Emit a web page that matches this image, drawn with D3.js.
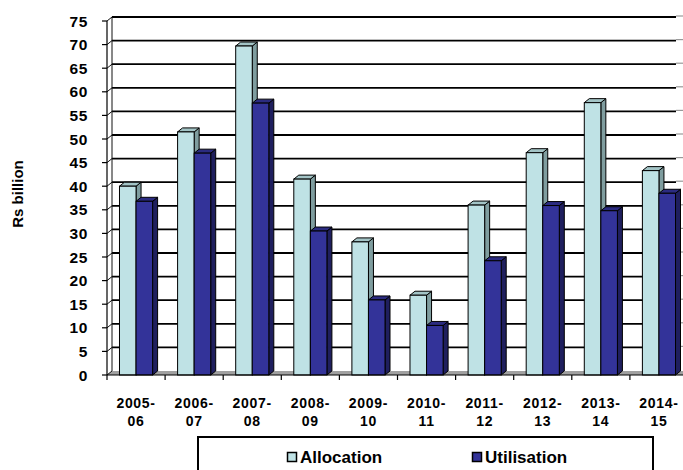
<!DOCTYPE html>
<html>
<head>
<meta charset="utf-8">
<script src="https://cdn.jsdelivr.net/npm/d3@7"></script>
<style>
  body { margin: 0; background: #fff; }
  svg text { font-family: "Liberation Sans", Arial, sans-serif; font-weight: bold; fill: #000; }
</style>
</head>
<body>
<svg id="chart" width="683" height="470"></svg>
<script>
// datos del grafico
var years = ["2005-06", "2006-07", "2007-08", "2008-09", "2009-10",
             "2010-11", "2011-12", "2012-13", "2013-14", "2014-15"];
var allocation  = [40.0, 51.5, 69.7, 41.5, 28.2, 16.9, 36.0, 47.1, 57.7, 43.3];
var utilisation = [36.8, 47.0, 57.6, 30.5, 15.9, 10.5, 24.2, 35.9, 34.8, 38.5];
var yTicks = d3.range(0, 80, 5);
var seriesNames = ["Allocation", "Utilisation"];

var svg = d3.select("#chart");

// escalas
var x0 = d3.scaleBand().domain(years).range([107, 688]);
var y = d3.scaleLinear().domain([0, 75]).range([375, 21]);
var x1 = d3.scaleBand().domain(seriesNames)
  .range([x0.bandwidth() * 0.215, x0.bandwidth() * 0.785]);

// profundidad 3D
var dx = 5, dy = -4;

var colors = {
  Allocation:  { front: "#bfe2e5", side: "#7f9d9f", top: "#a3c4c6" },
  Utilisation: { front: "#333399", side: "#1f1f5e", top: "#2b2b80" }
};

// suelo gris
svg.append("path")
  .attr("d", "M107,375 L688,375 L" + (688 + dx) + "," + (375 + dy) + " L" + (107 + dx) + "," + (375 + dy) + " Z")
  .attr("fill", "#a0a0a0");

// lineas de la cuadricula en la pared de fondo
svg.append("g").selectAll("line")
  .data(yTicks.filter(function(d) { return d > 0; }))
  .enter().append("line")
  .attr("x1", 107 + dx).attr("x2", 676)
  .attr("y1", function(d) { return y(d) + dy; })
  .attr("y2", function(d) { return y(d) + dy; })
  .attr("stroke", "#000").attr("stroke-width", 1.8);

// pequenos restos a la derecha
svg.append("g").selectAll("line")
  .data(yTicks.filter(function(d) { return d > 0; }))
  .enter().append("line")
  .attr("x1", 676).attr("x2", 683)
  .attr("y1", function(d) { return y(d) + dy - 1; })
  .attr("y2", function(d) { return y(d) + dy - 1; })
  .attr("stroke", "#999").attr("stroke-width", 1.2);

// pared lateral: diagonales
svg.append("g").selectAll("line")
  .data(yTicks)
  .enter().append("line")
  .attr("x1", 107).attr("x2", 107 + dx)
  .attr("y1", function(d) { return y(d); })
  .attr("y2", function(d) { return y(d) + dy; })
  .attr("stroke", "#111").attr("stroke-width", 1);

// borde de la pared de fondo
svg.append("line")
  .attr("x1", 107 + dx).attr("x2", 107 + dx)
  .attr("y1", y(75) + dy).attr("y2", y(0) + dy)
  .attr("stroke", "#111").attr("stroke-width", 1);

// barras 3D
function bar3d(g, xl, w, v, c) {
  var yt = y(v), yb = y(0);
  g.append("path")
    .attr("d", "M" + (xl + w) + "," + yb + " L" + (xl + w) + "," + yt + " L" + (xl + w + dx) + "," + (yt + dy) +
      " L" + (xl + w + dx) + "," + (yb + dy) + " Z")
    .attr("fill", c.side).attr("stroke", "#000").attr("stroke-width", 1);
  g.append("path")
    .attr("d", "M" + xl + "," + yt + " L" + (xl + dx) + "," + (yt + dy) + " L" + (xl + w + dx) + "," + (yt + dy) +
      " L" + (xl + w) + "," + yt + " Z")
    .attr("fill", c.top).attr("stroke", "#000").attr("stroke-width", 1);
  g.append("rect")
    .attr("x", xl).attr("y", yt).attr("width", w).attr("height", yb - yt)
    .attr("fill", c.front).attr("stroke", "#000").attr("stroke-width", 1);
}

var bars = svg.append("g");
years.forEach(function(yr, i) {
  var g = bars.append("g");
  bar3d(g, x0(yr) + x1("Allocation"), x1.bandwidth(), allocation[i], colors.Allocation);
  bar3d(g, x0(yr) + x1("Utilisation"), x1.bandwidth(), utilisation[i], colors.Utilisation);
});

// eje Y
var yAxis = svg.append("g");
yAxis.append("line")
  .attr("x1", 107).attr("x2", 107).attr("y1", y(75)).attr("y2", y(0))
  .attr("stroke", "#000").attr("stroke-width", 1.2);
yAxis.selectAll(".tk").data(yTicks).enter().append("line")
  .attr("x1", 102).attr("x2", 107)
  .attr("y1", function(d) { return y(d); }).attr("y2", function(d) { return y(d); })
  .attr("stroke", "#000").attr("stroke-width", 1.2);
yAxis.selectAll("text").data(yTicks).enter().append("text")
  .attr("x", 88).attr("y", function(d) { return y(d); })
  .attr("dy", "0.36em")
  .attr("text-anchor", "end")
  .style("font-size", "15.5px")
  .style("letter-spacing", "0.6px")
  .text(function(d) { return d; });

// eje X
var xAxis = svg.append("g");
xAxis.append("line")
  .attr("x1", 107).attr("x2", 683).attr("y1", 375).attr("y2", 375)
  .attr("stroke", "#000").attr("stroke-width", 1.2);
xAxis.selectAll(".tk").data(years).enter().append("line")
  .attr("x1", function(d) { return x0(d); }).attr("x2", function(d) { return x0(d); })
  .attr("y1", 375).attr("y2", 380)
  .attr("stroke", "#000").attr("stroke-width", 1.2);
var labels = xAxis.selectAll("text").data(years).enter().append("text")
  .attr("text-anchor", "middle")
  .style("font-size", "14px")
  .style("letter-spacing", "0.7px");
labels.append("tspan")
  .attr("x", function(d) { return x0(d) + x0.bandwidth() / 2; })
  .attr("y", 408)
  .text(function(d) { return d.split("-")[0] + "-"; });
labels.append("tspan")
  .attr("x", function(d) { return x0(d) + x0.bandwidth() / 2; })
  .attr("y", 426)
  .text(function(d) { return d.split("-")[1]; });

// titulo del eje Y
svg.append("text")
  .attr("transform", "translate(23,194) rotate(-90)")
  .attr("text-anchor", "middle")
  .style("font-size", "15px")
  .text("Rs billion");

// leyenda
var legend = svg.append("g");
legend.append("rect")
  .attr("x", 198).attr("y", 437).attr("width", 455).attr("height", 60)
  .attr("fill", "#fff").attr("stroke", "#000").attr("stroke-width", 2);
var items = [{ name: "Allocation", x: 287 }, { name: "Utilisation", x: 472 }];
items.forEach(function(it) {
  legend.append("rect")
    .attr("x", it.x + 0.5).attr("y", 452.5).attr("width", 9).attr("height", 9)
    .attr("fill", colors[it.name].front).attr("stroke", "#000").attr("stroke-width", 1.5);
  legend.append("text")
    .attr("x", it.x + 13).attr("y", 463)
    .style("font-size", "17px")
    .text(it.name);
});
</script>
</body>
</html>
